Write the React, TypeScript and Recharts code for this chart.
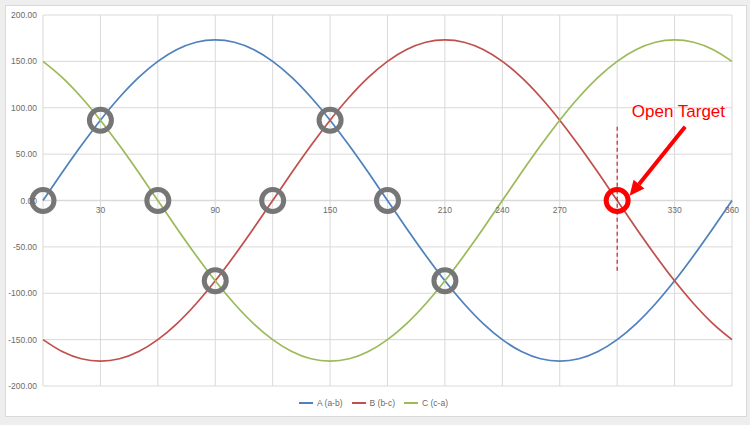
import {
  LineChart,
  Line,
  XAxis,
  YAxis,
  CartesianGrid,
  Legend,
  ReferenceDot,
  ReferenceLine,
} from "recharts";

// phase angle in degrees
const degrees = [
  0, 10, 20, 30, 40, 50, 60, 70, 80, 90, 100, 110, 120, 130, 140, 150, 160, 170,
  180, 190, 200, 210, 220, 230, 240, 250, 260, 270, 280, 290, 300, 310, 320,
  330, 340, 350, 360,
];

const seriesA = [
  0, 30.1, 59.2, 86.6, 111.3, 132.7, 150.0, 162.8, 170.6, 173.2, 170.6, 162.8,
  150.0, 132.7, 111.3, 86.6, 59.2, 30.1, 0, -30.1, -59.2, -86.6, -111.3, -132.7,
  -150.0, -162.8, -170.6, -173.2, -170.6, -162.8, -150.0, -132.7, -111.3, -86.6,
  -59.2, -30.1, 0,
];

const seriesB = [
  -150.0, -162.8, -170.6, -173.2, -170.6, -162.8, -150.0, -132.7, -111.3, -86.6,
  -59.2, -30.1, 0, 30.1, 59.2, 86.6, 111.3, 132.7, 150.0, 162.8, 170.6, 173.2,
  170.6, 162.8, 150.0, 132.7, 111.3, 86.6, 59.2, 30.1, 0, -30.1, -59.2, -86.6,
  -111.3, -132.7, -150.0,
];

const seriesC = [
  150.0, 132.7, 111.3, 86.6, 59.2, 30.1, 0, -30.1, -59.2, -86.6, -111.3, -132.7,
  -150.0, -162.8, -170.6, -173.2, -170.6, -162.8, -150.0, -132.7, -111.3, -86.6,
  -59.2, -30.1, 0, 30.1, 59.2, 86.6, 111.3, 132.7, 150.0, 162.8, 170.6, 173.2,
  170.6, 162.8, 150.0,
];

const xTicks = [0, 30, 60, 90, 120, 150, 180, 210, 240, 270, 300, 330, 360];
// labels under rings are not shown
const xLabelTicks = [30, 90, 150, 210, 240, 270, 330, 360];
const yTicks = [-200, -150, -100, -50, 0, 50, 100, 150, 200];

// crossing points marked with grey rings
const crossX = [0, 30, 60, 90, 120, 150, 180, 210];
const crossY = [0, 86.6, 0, -86.6, 0, 86.6, 0, -86.6];

const openTarget = { x: 300, y: 0 };

const data = degrees.map((d, i) => ({
  deg: d,
  a: seriesA[i],
  b: seriesB[i],
  c: seriesC[i],
}));

const FONT = "'Liberation Sans', Arial, sans-serif";
const GRID = "#d9d9d9";
const TICK = "#6b6b6b";

function Arrow(props: any) {
  const { x1, y1, x2, y2 } = props;
  const dx = x2 - x1;
  const dy = y2 - y1;
  const len = Math.sqrt(dx * dx + dy * dy);
  const ux = dx / len;
  const uy = dy / len;
  const head = 15;
  const half = 7;
  const bx = x2 - ux * head;
  const by = y2 - uy * head;
  const pts = [
    [x2, y2],
    [bx - uy * half, by + ux * half],
    [bx + uy * half, by - ux * half],
  ]
    .map((p) => p.join(","))
    .join(" ");
  return (
    <g>
      <line x1={x1} y1={y1} x2={bx} y2={by} stroke="#ff0000" strokeWidth={4} />
      <polygon points={pts} fill="#ff0000" />
    </g>
  );
}

function LegendRow(props: any) {
  const { payload } = props;
  return (
    <div
      style={{
        display: "flex",
        justifyContent: "center",
        alignItems: "center",
        fontSize: 8.5,
        fontFamily: FONT,
        color: TICK,
        lineHeight: "10px",
      }}
    >
      {(payload || []).map((p: any) => (
        <span
          key={p.value}
          style={{ display: "inline-flex", alignItems: "center", marginRight: 9 }}
        >
          <svg width={14} height={4} style={{ marginRight: 4 }}>
            <line x1={0} y1={2} x2={14} y2={2} stroke={p.color} strokeWidth={2} />
          </svg>
          {p.value}
        </span>
      ))}
    </div>
  );
}

export default function App() {
  return (
    <div
      style={{
        position: "absolute",
        left: 0,
        top: 0,
        width: 750,
        height: 425,
        background: "#eeeeee",
        fontFamily: FONT,
      }}
    >
      <div
        style={{
          position: "absolute",
          left: 5,
          top: 5,
          width: 740,
          height: 410,
          background: "#ffffff",
          border: "1px solid #d9d9d9",
        }}
      />
      <div style={{ position: "absolute", left: 0, top: 0 }}>
        <LineChart
          width={750}
          height={425}
          data={data}
          margin={{ top: 15, right: 18, bottom: 29, left: 0 }}
        >
          <CartesianGrid stroke={GRID} strokeWidth={1} />
          <XAxis
            dataKey="deg"
            type="number"
            domain={[0, 360]}
            ticks={xTicks}
            hide
          />
          <YAxis
            type="number"
            domain={[-200, 200]}
            ticks={yTicks}
            width={43}
            axisLine={false}
            tickLine={false}
            tickSize={4}
            tickMargin={2}
            tick={{ fill: TICK, fontSize: 8.5, fontFamily: FONT }}
            tickFormatter={(v: number) => v.toFixed(2)}
          />
          <ReferenceLine y={0} stroke={GRID} strokeWidth={1.5} />
          {xLabelTicks.map((t) => (
            <ReferenceDot
              key={`xl-${t}`}
              x={t}
              y={0}
              r={0}
              stroke="none"
              fill="none"
              label={{
                value: String(t),
                position: "bottom",
                offset: 6,
                fill: TICK,
                fontSize: 8.5,
                fontFamily: FONT,
              }}
            />
          ))}
          <Line
            type="monotone"
            dataKey="a"
            name="A (a-b)"
            stroke="#4f81bd"
            strokeWidth={1.75}
            dot={false}
            isAnimationActive={false}
          />
          <Line
            type="monotone"
            dataKey="b"
            name="B (b-c)"
            stroke="#c0504d"
            strokeWidth={1.75}
            dot={false}
            isAnimationActive={false}
          />
          <Line
            type="monotone"
            dataKey="c"
            name="C (c-a)"
            stroke="#9bbb59"
            strokeWidth={1.75}
            dot={false}
            isAnimationActive={false}
          />
          {crossX.map((x, i) => (
            <ReferenceDot
              key={`ring-${x}`}
              x={x}
              y={crossY[i]}
              r={11}
              fill="none"
              stroke="#767676"
              strokeWidth={5}
            />
          ))}
          <ReferenceLine
            segment={[
              { x: openTarget.x, y: 79.5 },
              { x: openTarget.x, y: -77 },
            ]}
            stroke="#c00000"
            strokeWidth={1}
            strokeDasharray="4 3"
          />
          <ReferenceDot
            x={openTarget.x}
            y={openTarget.y}
            r={11}
            fill="none"
            stroke="#ff0000"
            strokeWidth={5}
          />
          <ReferenceLine
            segment={[
              { x: 335.5, y: 79.5 },
              { x: 306.5, y: 5 },
            ]}
            shape={Arrow}
          />
          <ReferenceDot
            x={332}
            y={97}
            r={0}
            stroke="none"
            fill="none"
            label={{
              value: "Open Target",
              position: "center",
              fill: "#ff0000",
              fontSize: 17,
              fontFamily: FONT,
            }}
          />
          <Legend
            verticalAlign="bottom"
            align="center"
            content={LegendRow}
            wrapperStyle={{ bottom: 17, left: 12 }}
          />
        </LineChart>
      </div>
    </div>
  );
}
